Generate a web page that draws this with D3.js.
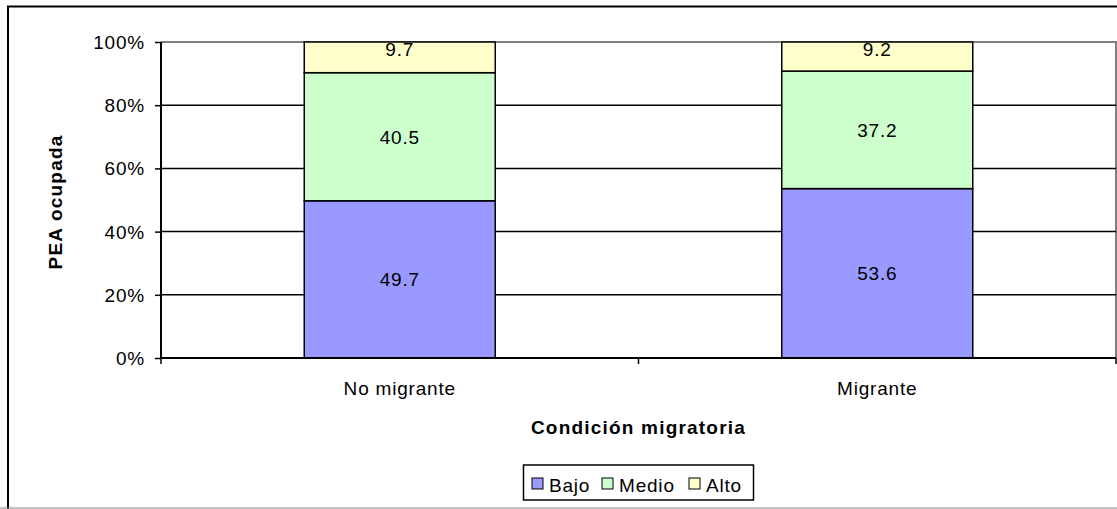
<!DOCTYPE html>
<html>
<head>
<meta charset="utf-8">
<script src="https://cdn.jsdelivr.net/npm/d3@7"></script>
<style>
  body { margin: 0; background: #fff; }
  svg text { font-family: Arial, "Liberation Sans", sans-serif; font-size: 19px; letter-spacing: 0.8px; fill: #000; }
  svg text.bold { font-weight: bold; letter-spacing: 1.2px; }
</style>
</head>
<body>
<svg width="1117" height="509"></svg>
<script>
const categories = ["No migrante", "Migrante"];
const seriesNames = ["Bajo", "Medio", "Alto"];
const bajo = [49.7, 53.6];
const medio = [40.5, 37.2];
const alto = [9.7, 9.2];
const colors = ["#9999ff", "#ccffcc", "#ffffcc"];
const yTicks = [0, 0.2, 0.4, 0.6, 0.8, 1];

const svg = d3.select("svg");

// outer chart frame (cropped at right/bottom)
svg.append("rect").attr("x", 8).attr("y", 6.5).attr("width", 1120).attr("height", 510)
  .attr("fill", "#fff").attr("stroke", "#000").attr("stroke-width", 2);
svg.append("line").attr("x1", 0).attr("x2", 1117).attr("y1", 508).attr("y2", 508)
  .attr("stroke", "#888").attr("stroke-width", 1);

const pLeft = 161, pRight = 1116, pTop = 42, pBottom = 358;

const x = d3.scaleBand().domain(categories).range([pLeft, pRight]).paddingInner(0.6).paddingOuter(0.3);
const xGroup = d3.scaleBand().domain(categories).range([pLeft, pRight]);
const y = d3.scaleLinear().domain([0, 1]).range([pBottom, pTop]);

const rows = categories.map((c, i) => {
  const tot = bajo[i] + medio[i] + alto[i];
  return { cat: c, Bajo: bajo[i] / tot, Medio: medio[i] / tot, Alto: alto[i] / tot,
           raw: { Bajo: bajo[i], Medio: medio[i], Alto: alto[i] } };
});
const stacked = d3.stack().keys(seriesNames)(rows);

// plot area border (top/right gray)
svg.append("path")
  .attr("d", `M${pLeft},${pTop}H${pRight}V${pBottom}`)
  .attr("fill", "none").attr("stroke", "#808080").attr("stroke-width", 2);

// gridlines
svg.append("g").selectAll("line").data(yTicks.filter(t => t > 0 && t < 1)).join("line")
  .attr("x1", pLeft).attr("x2", pRight)
  .attr("y1", d => y(d)).attr("y2", d => y(d))
  .attr("stroke", "#000").attr("stroke-width", 1.5);

// bars
stacked.forEach((s, k) => {
  svg.append("g").selectAll("rect").data(s).join("rect")
    .attr("x", d => x(d.data.cat))
    .attr("width", x.bandwidth())
    .attr("y", d => y(d[1]))
    .attr("height", d => y(d[0]) - y(d[1]))
    .attr("fill", colors[k])
    .attr("stroke", "#000").attr("stroke-width", 1.5);
  svg.append("g").selectAll("text").data(s).join("text")
    .attr("x", d => x(d.data.cat) + x.bandwidth() / 2)
    .attr("y", d => k === 2 ? y(d[1]) + 14 : (y(d[0]) + y(d[1])) / 2 + 7)
    .attr("text-anchor", "middle")
    .text(d => d.data.raw[s.key].toFixed(1));
});

// y axis
const yAxis = svg.append("g").attr("transform", `translate(${pLeft},0)`)
  .call(d3.axisLeft(y).tickValues(yTicks).tickFormat(d3.format(".0%")).tickSize(6).tickPadding(10));
yAxis.attr("font-size", null).attr("font-family", null);
yAxis.select(".domain").attr("stroke-width", 2).attr("d", `M-0,${pTop}V${pBottom}`);
yAxis.selectAll(".tick line").attr("stroke-width", 1.5);
yAxis.selectAll("text").attr("fill", null).attr("dy", "0.34em");

// x axis
const xAxis = svg.append("g").attr("transform", `translate(0,${pBottom})`)
  .call(d3.axisBottom(xGroup).tickSize(0).tickPadding(0));
xAxis.attr("font-size", null).attr("font-family", null);
xAxis.select(".domain").attr("stroke-width", 2).attr("d", `M${pLeft},0H${pRight}`);
xAxis.selectAll("text").attr("fill", null).attr("dy", null).attr("y", 37);
svg.append("g").selectAll("line").data([pLeft, pLeft + xGroup.bandwidth(), pRight]).join("line")
  .attr("x1", d => d).attr("x2", d => d).attr("y1", pBottom).attr("y2", pBottom + 6)
  .attr("stroke", "#000").attr("stroke-width", 1.5);

// axis titles
svg.append("text").attr("class", "bold").attr("x", (pLeft + pRight) / 2).attr("y", 434)
  .attr("text-anchor", "middle")
  .text("Condición migratoria");
svg.append("text").attr("class", "bold").attr("transform", `translate(62,${(pTop + pBottom) / 2 + 2}) rotate(-90)`)
  .attr("text-anchor", "middle")
  .text("PEA ocupada");

// legend
const lg = svg.append("g");
lg.append("rect").attr("x", 523.5).attr("y", 465).attr("width", 230).attr("height", 35)
  .attr("fill", "#fff").attr("stroke", "#000").attr("stroke-width", 1.5);
const legendX = [532, 602, 689];
seriesNames.forEach((n, i) => {
  lg.append("rect").attr("x", legendX[i]).attr("y", 478).attr("width", 11).attr("height", 11)
    .attr("fill", colors[i]).attr("stroke", "#000").attr("stroke-width", 1);
  lg.append("text").attr("x", legendX[i] + 17).attr("y", 491.5).text(n);
});
</script>
</body>
</html>
